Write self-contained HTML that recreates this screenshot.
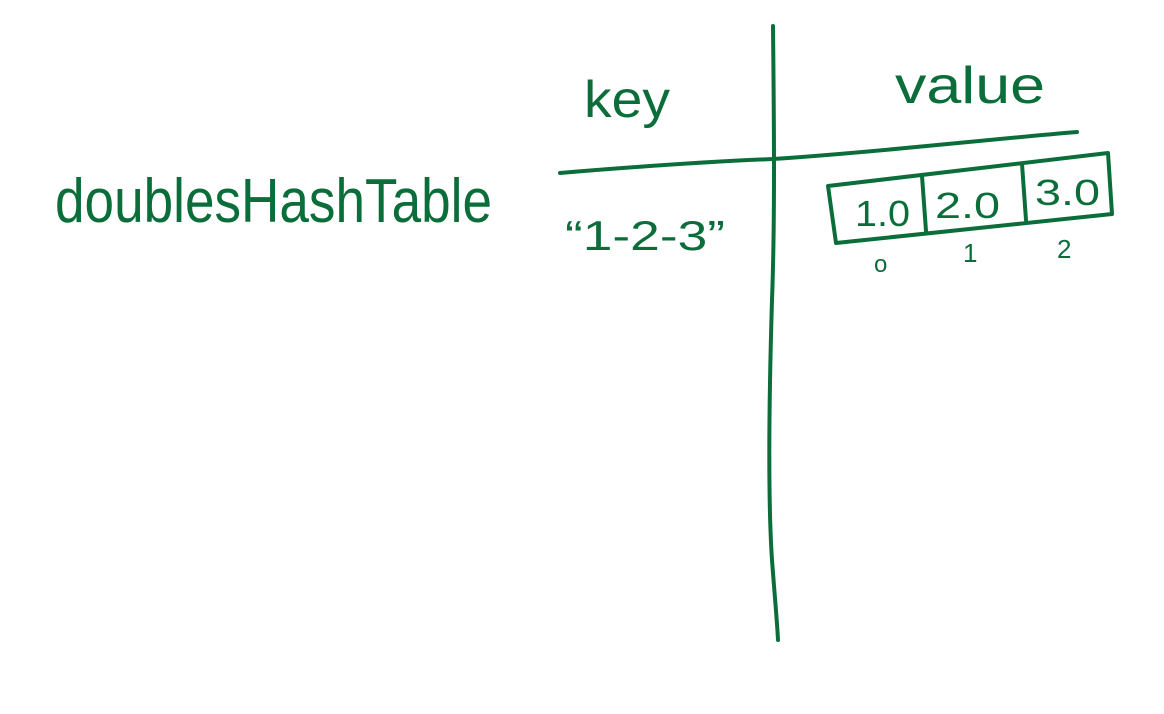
<!DOCTYPE html>
<html>
<head>
<meta charset="utf-8">
<style>
  html,body{margin:0;padding:0;background:#fff;}
  svg{display:block;}
  text{font-family:"Liberation Sans",sans-serif;fill:#0b6e3a;}
</style>
</head>
<body>
<svg width="1164" height="714" viewBox="0 0 1164 714">
  <g stroke="#0b6e3a" stroke-width="4" fill="none" stroke-linecap="round" stroke-linejoin="round">
    <path d="M773,26 C774,120 775,220 772,300 C769,400 768,500 772,560 C775,600 777,620 778,640"/>
    <path d="M560,173 C620,168 700,162 773,159 C880,152 980,140 1077,132"/>
    <path d="M828,186 L1108,153 L1112,214 L836,243 Z"/>
    <path d="M922,176 L926,231"/>
    <path d="M1022,164 L1026,220"/>
  </g>
  <text x="55" y="222" font-size="62" textLength="437" lengthAdjust="spacingAndGlyphs">doublesHashTable</text>
  <text x="584" y="117" font-size="52" textLength="86" lengthAdjust="spacingAndGlyphs">key</text>
  <text x="895" y="103" font-size="52" textLength="150" lengthAdjust="spacingAndGlyphs">value</text>
  <text x="565" y="250" font-size="42" textLength="160" lengthAdjust="spacingAndGlyphs">“1-2-3”</text>
  <text x="855" y="226" font-size="36" textLength="55" lengthAdjust="spacingAndGlyphs">1.0</text>
  <text x="935" y="218" font-size="36" textLength="65" lengthAdjust="spacingAndGlyphs">2.0</text>
  <text x="1035" y="205" font-size="36" textLength="65" lengthAdjust="spacingAndGlyphs">3.0</text>
  <text x="874" y="272" font-size="24">o</text>
  <text x="963" y="262" font-size="26">1</text>
  <text x="1057" y="258" font-size="26">2</text>
</svg>
</body>
</html>
